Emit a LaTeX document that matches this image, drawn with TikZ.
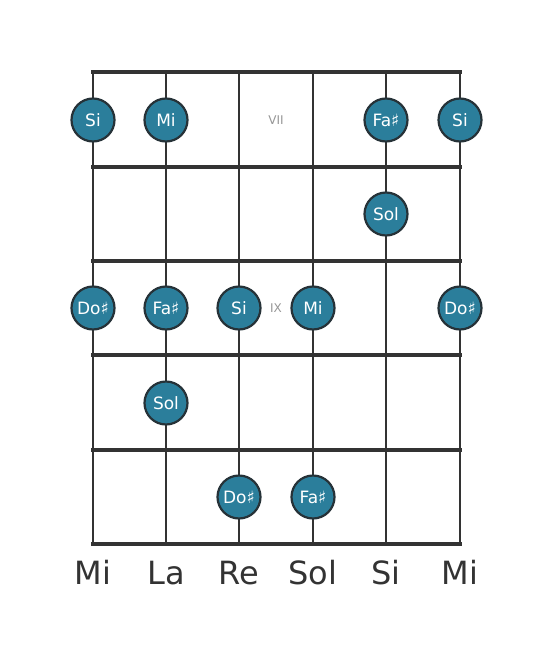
\documentclass[tikz,border=0pt]{standalone}
\usepackage{fontspec}
\setmainfont{DejaVu Sans}
\usetikzlibrary{positioning}
\definecolor{fretline}{RGB}{51,51,51}
\definecolor{dotfill}{RGB}{43,126,155}
\definecolor{dotedge}{RGB}{38,50,56}
\definecolor{markgray}{RGB}{150,150,150}
\tikzset{
  note/.style={circle, minimum size=43pt, inner sep=0pt, fill=dotfill, draw=dotedge,
    line width=2.2pt, text=white, font=\fontsize{17}{17}\selectfont},
  fretnum/.style={text=markgray, font=\fontsize{12}{12}\selectfont},
  strname/.style={text=fretline, font=\fontsize{32}{32}\selectfont, anchor=base}
}
\begin{document}
\begin{tikzpicture}[x=1pt, y=-1pt]
\useasboundingbox (0,0) rectangle (553,656);
% strings
\draw[fretline, line width=2.8pt] (93,72)--(93,544);
\draw[fretline, line width=2.8pt] (166,72)--(166,544);
\draw[fretline, line width=2.8pt] (239,72)--(239,544);
\draw[fretline, line width=2.8pt] (313,72)--(313,544);
\draw[fretline, line width=2.8pt] (386,72)--(386,544);
\draw[fretline, line width=2.8pt] (460,72)--(460,544);
% frets
\draw[fretline, line width=4.5pt] (91,72)--(462,72);
\draw[fretline, line width=4.5pt] (91,167)--(462,167);
\draw[fretline, line width=4.5pt] (91,261)--(462,261);
\draw[fretline, line width=4.5pt] (91,355)--(462,355);
\draw[fretline, line width=4.5pt] (91,450)--(462,450);
\draw[fretline, line width=4.5pt] (91,544)--(462,544);
% fret numbers
\node[fretnum] (vii) at (276,120) {VII};
\node[fretnum] (ix) at (276,308) {IX};
% notes, fret VII
\node[note] (n1) at (93,120) {Si};
\node[note] (n2) at (166,120) {Mi};
\node[note] (n3) at (386,120) {Fa♯};
\node[note] (n4) at (460,120) {Si};
% fret VIII
\node[note] (n5) at (386,214) {Sol};
% fret IX
\node[note] (n6) at (93,308) {Do♯};
\node[note] (n7) at (166,308) {Fa♯};
\node[note] (n8) at (239,308) {Si};
\node[note] (n9) at (313,308) {Mi};
\node[note] (n10) at (460,308) {Do♯};
% fret X
\node[note] (n11) at (166,403) {Sol};
% fret XI
\node[note] (n12) at (239,497) {Do♯};
\node[note] (n13) at (313,497) {Fa♯};
% string names
\node[strname] (s1) at (93,584) {Mi};
\node[strname] (s2) at (166,584) {La};
\node[strname] (s3) at (239,584) {Re};
\node[strname] (s4) at (313,584) {Sol};
\node[strname] (s5) at (386,584) {Si};
\node[strname] (s6) at (460,584) {Mi};
\end{tikzpicture}
\end{document}
